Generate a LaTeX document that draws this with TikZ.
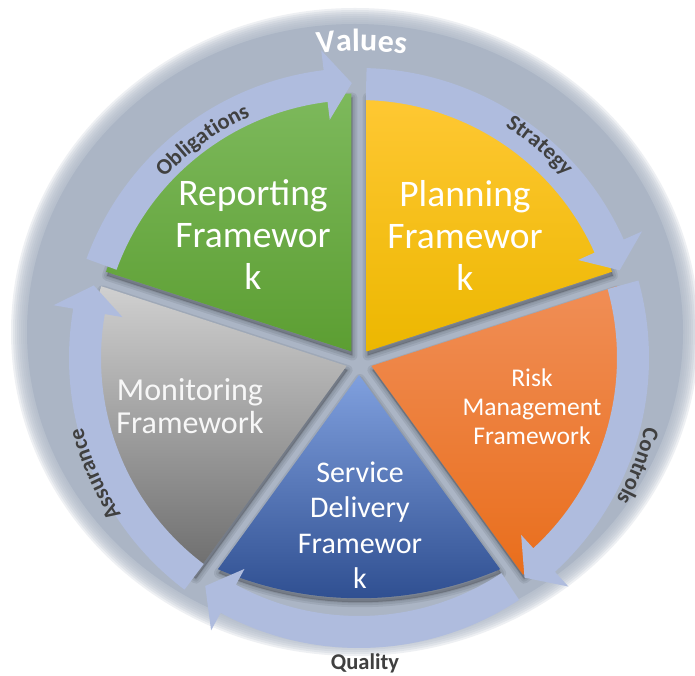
\documentclass[tikz,border=0pt]{standalone}
\usepackage{fontspec}
\setmainfont{Carlito}
\usetikzlibrary{decorations.text}

\definecolor{diskfill}{RGB}{171,181,197}
\definecolor{ringblue}{RGB}{175,188,222}
\definecolor{labelgray}{RGB}{64,64,64}
\definecolor{greenA}{RGB}{125,185,92}
\definecolor{greenB}{RGB}{92,158,50}
\definecolor{yellowA}{RGB}{255,200,52}
\definecolor{yellowB}{RGB}{236,183,0}
\definecolor{orangeA}{RGB}{240,142,86}
\definecolor{orangeB}{RGB}{233,110,28}
\definecolor{blueA}{RGB}{128,160,222}
\definecolor{blueB}{RGB}{44,76,142}
\definecolor{grayA}{RGB}{208,208,208}
\definecolor{grayB}{RGB}{108,108,108}

% one slice of the pie: tip x, tip y, first angle, second angle, style
\newcommand\slicepath[5]{%
  \path[#5] (#1,#2) -- ++(#3:258) arc[start angle=#3, end angle=#4, radius=258] -- cycle;}
% the lower slice has a flatter outer edge
\newcommand\lowslicepath[1]{%
  \path[#1] (359,300) -- ++(-126:240) arc[start angle=246.73, end angle=293.27, radius=357.2] -- cycle;}
% curved arrow of the outer ring: start angle, tip angle (clockwise)
\newcommand\ringarrow[2]{%
  \fill[ringblue] (#1:290) arc[start angle=#1, end angle={#2+5.5}, radius=290]
    -- ({#2+5.5}:310) -- (#2:275) -- ({#2+5.5}:240) -- ({#2+5.5}:258)
    arc[start angle={#2+5.5}, end angle=#1, radius=258] -- cycle;}
\newcommand\labelfont{\bfseries\fontsize{22.5}{22.5}\selectfont\color{labelgray}}
\newcommand\valuesfont{\bfseries\fontsize{32}{32}\selectfont\color{white}}

\begin{document}
\begin{tikzpicture}[x=1pt,y=1pt,
  wedgeshadow/.style={fill=black, draw=black, fill opacity=0.07, draw opacity=0.07,
    line width=#1, line join=round, shift={(1,-4)}},
  slicetext/.style={text=white, align=center},
  arclabel/.style={decorate, decoration={text along path, text align=center}}]
\useasboundingbox (0,0) rectangle (695,675);
\fill[white] (0,0) rectangle (695,675);

% soft-edged backdrop disk
\foreach \k in {1,...,8}{
  \fill[diskfill, opacity=0.2] (355,343) ellipse[x radius={328+2*\k}, y radius={308+2*\k}];}
\fill[diskfill] (355,343) ellipse[x radius=328, y radius=308];

% shadows under the slices
\foreach \w in {10,6,2}{
  \slicepath{351.4}{323.5}{90}{162}{wedgeshadow=\w}
  \slicepath{366.6}{323.5}{18}{90}{wedgeshadow=\w}
  \slicepath{371.4}{309}{-54}{18}{wedgeshadow=\w}
  \slicepath{346.6}{309}{162}{234}{wedgeshadow=\w}
  \lowslicepath{wedgeshadow=\w}
}

% the five slices
\slicepath{351.4}{323.5}{90}{162}{top color=greenA, bottom color=greenB}
\slicepath{366.6}{323.5}{18}{90}{top color=yellowA, bottom color=yellowB}
\slicepath{371.4}{309}{-54}{18}{top color=orangeA, bottom color=orangeB}
\slicepath{346.6}{309}{162}{234}{top color=grayA, bottom color=grayB}
\lowslicepath{top color=blueA, bottom color=blueB}

% outer ring of arrows and their labels
\begin{scope}[shift={(359,317)}]
  \ringarrow{160}{91.5}
  \ringarrow{88.5}{18.6}
  \ringarrow{15.5}{-53}
  \ringarrow{-56.5}{-124}
  \ringarrow{233}{164.7}

  \path[arclabel, decoration={text={|\labelfont|Obligations}}]
    (155.7:265) arc[start angle=155.7, end angle=95.7, radius=265];
  \path[arclabel, decoration={text={|\labelfont|Strategy}}]
    (79.6:274) arc[start angle=79.6, end angle=19.6, radius=274];
  \path[arclabel, decoration={text={|\labelfont|Controls}}]
    (8.8:294) arc[start angle=8.8, end angle=-51.2, radius=294];
  \path[arclabel, decoration={text={|\labelfont|Assurance}}]
    (233.8:285) arc[start angle=233.8, end angle=173.8, radius=285];
  \path[arclabel, decoration={text={|\valuesfont|Values}}]
    (119.5:307) arc[start angle=119.5, end angle=59.5, radius=307];
\end{scope}
\node[font=\labelfont] (quality) at (365,12) {Quality};

% slice captions
\node[slicetext, font=\fontsize{37.5}{42}\selectfont] (reporting) at (253,440) {Reporting\\Framewor\\k};
\node[slicetext, font=\fontsize{37.5}{42}\selectfont] (planning) at (465,440) {Planning\\Framewor\\k};
\node[slicetext, font=\fontsize{25.5}{29}\selectfont] (risk) at (532,268) {Risk\\Management\\Framework};
\node[slicetext, font=\fontsize{30}{35.5}\selectfont] (service) at (360,150) {Service\\Delivery\\Framewor\\k};
\node[slicetext, text=white!94!gray, font=\fontsize{32}{33}\selectfont] (monitoring) at (190,269) {Monitoring\\Framework};
\end{tikzpicture}
\end{document}
